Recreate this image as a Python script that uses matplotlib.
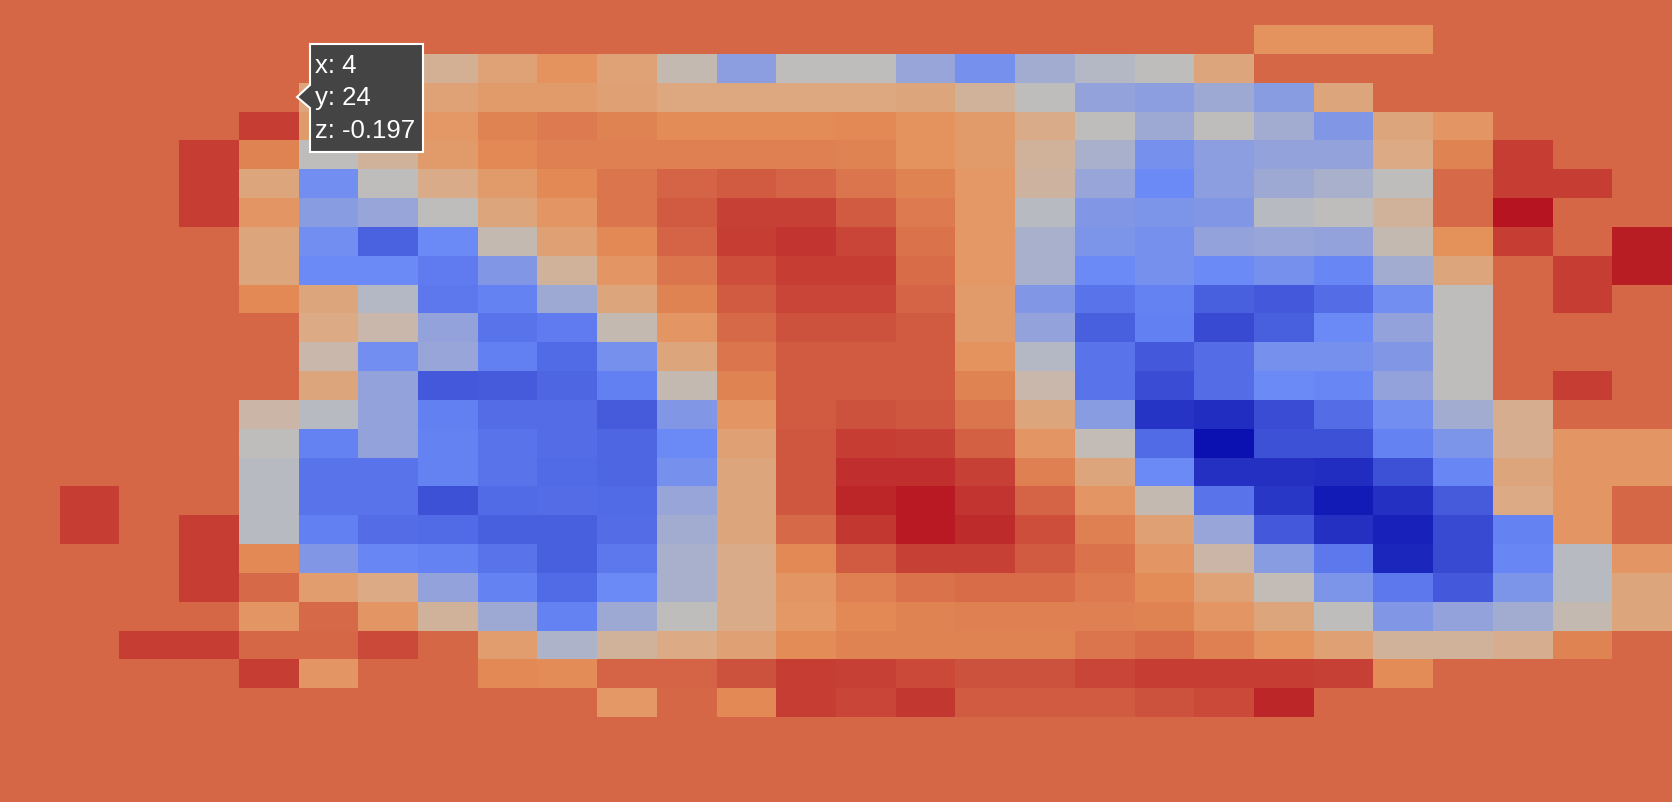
import numpy as np
import matplotlib
matplotlib.use("Agg")
import matplotlib.pyplot as plt
from matplotlib.colors import LinearSegmentedColormap
from matplotlib.patches import Polygon

b = -0.197  # background value

# rows listed from top (y=27) to bottom (y=0), 28 columns each (x=0..27)
ys = list(range(27, -1, -1))
xs = list(range(28))
z_rows = [
    [b] * 28,
    [b] * 21 + [-0.30, -0.30, -0.30] + [b] * 4,
    [b, b, b, b, b, b, -0.42, -0.42, -0.36, -0.30, -0.36, -0.47, -0.58, -0.49, -0.49, -0.56, -0.62, -0.54, -0.51, -0.49, -0.37, b, b, b, b, b, b, b],
    [b, b, b, b, b, -0.37, -0.36, -0.36, -0.33, -0.33, -0.35, -0.38, -0.38, -0.38, -0.38, -0.37, -0.43, -0.49, -0.57, -0.58, -0.55, -0.59, -0.37, b, b, b, b, b],
    [b, b, b, b, -0.10, -0.33, -0.33, -0.32, -0.26, -0.24, -0.26, -0.28, -0.28, -0.28, -0.27, -0.30, -0.33, -0.40, -0.49, -0.55, -0.49, -0.54, -0.60, -0.37, -0.31, b, b, b],
    [b, b, b, -0.10, -0.26, -0.49, -0.43, -0.33, -0.27, -0.25, -0.25, -0.25, -0.25, -0.25, -0.26, -0.30, -0.33, -0.43, -0.53, -0.62, -0.58, -0.57, -0.57, -0.39, -0.26, -0.10, b, b],
    [b, b, b, -0.10, -0.37, -0.63, -0.49, -0.40, -0.33, -0.27, -0.23, -0.19, -0.17, -0.19, -0.23, -0.26, -0.32, -0.44, -0.56, -0.64, -0.58, -0.55, -0.53, -0.49, -0.20, -0.10, -0.10, b],
    [b, b, b, -0.10, -0.31, -0.59, -0.56, -0.49, -0.37, -0.31, -0.23, -0.17, -0.11, -0.11, -0.17, -0.24, -0.32, -0.50, -0.60, -0.61, -0.60, -0.50, -0.49, -0.43, -0.20, -0.01, b, b],
    [b, b, b, b, -0.37, -0.63, -0.75, -0.64, -0.47, -0.35, -0.27, -0.19, -0.10, -0.08, -0.12, -0.22, -0.32, -0.53, -0.61, -0.62, -0.57, -0.56, -0.57, -0.47, -0.29, -0.10, b, -0.03],
    [b, b, b, b, -0.37, -0.64, -0.64, -0.68, -0.60, -0.43, -0.31, -0.23, -0.14, -0.10, -0.10, -0.21, -0.32, -0.53, -0.64, -0.62, -0.64, -0.62, -0.65, -0.54, -0.37, b, -0.10, -0.03],
    [b, b, b, b, -0.27, -0.37, -0.51, -0.69, -0.66, -0.55, -0.37, -0.26, -0.17, -0.12, -0.12, -0.19, -0.33, -0.60, -0.70, -0.66, -0.76, -0.78, -0.72, -0.63, -0.49, b, -0.10, b],
    [b, b, b, b, b, -0.39, -0.46, -0.57, -0.70, -0.68, -0.47, -0.31, -0.20, -0.15, -0.15, -0.17, -0.33, -0.57, -0.76, -0.67, -0.82, -0.76, -0.64, -0.57, -0.49, b, b, b],
    [b, b, b, b, b, -0.46, -0.63, -0.56, -0.67, -0.73, -0.62, -0.37, -0.23, -0.17, -0.17, -0.17, -0.30, -0.51, -0.70, -0.78, -0.72, -0.62, -0.62, -0.60, -0.49, b, b, b],
    [b, b, b, b, b, -0.37, -0.57, -0.78, -0.77, -0.74, -0.67, -0.47, -0.26, -0.17, -0.17, -0.17, -0.26, -0.46, -0.70, -0.81, -0.72, -0.64, -0.65, -0.57, -0.49, b, -0.10, b],
    [b, b, b, b, -0.45, -0.50, -0.57, -0.67, -0.72, -0.72, -0.77, -0.60, -0.31, -0.17, -0.15, -0.16, -0.23, -0.37, -0.59, -0.88, -0.90, -0.81, -0.72, -0.63, -0.54, -0.41, b, b],
    [b, b, b, b, -0.49, -0.66, -0.57, -0.66, -0.70, -0.72, -0.74, -0.64, -0.35, -0.16, -0.10, -0.11, -0.18, -0.31, -0.48, -0.73, -0.98, -0.80, -0.80, -0.66, -0.61, -0.41, -0.31, -0.31],
    [b, b, b, b, -0.50, -0.70, -0.70, -0.66, -0.70, -0.73, -0.74, -0.62, -0.37, -0.16, -0.07, -0.07, -0.11, -0.25, -0.37, -0.64, -0.89, -0.89, -0.90, -0.80, -0.65, -0.37, -0.31, -0.31],
    [b, -0.10, b, b, -0.50, -0.70, -0.70, -0.80, -0.73, -0.72, -0.73, -0.56, -0.37, -0.16, -0.05, -0.02, -0.08, -0.19, -0.31, -0.47, -0.70, -0.87, -0.95, -0.89, -0.77, -0.39, -0.31, b],
    [b, -0.10, b, -0.10, -0.50, -0.67, -0.72, -0.73, -0.76, -0.76, -0.72, -0.54, -0.37, -0.20, -0.09, -0.02, -0.06, -0.14, -0.25, -0.35, -0.56, -0.78, -0.89, -0.93, -0.82, -0.66, -0.31, b],
    [b, b, b, -0.10, -0.27, -0.60, -0.65, -0.66, -0.70, -0.76, -0.69, -0.53, -0.40, -0.27, -0.17, -0.11, -0.11, -0.17, -0.22, -0.31, -0.45, -0.59, -0.69, -0.92, -0.82, -0.65, -0.50, -0.31],
    [b, b, b, -0.10, -0.20, -0.34, -0.39, -0.57, -0.66, -0.73, -0.64, -0.53, -0.40, -0.31, -0.25, -0.22, -0.21, -0.21, -0.24, -0.28, -0.36, -0.48, -0.61, -0.69, -0.78, -0.61, -0.50, -0.37],
    [b, b, b, b, -0.31, -0.20, -0.31, -0.43, -0.55, -0.66, -0.55, -0.49, -0.40, -0.32, -0.27, -0.26, -0.25, -0.25, -0.25, -0.26, -0.31, -0.37, -0.49, -0.60, -0.57, -0.54, -0.47, -0.37],
    [b, b, -0.10, -0.10, b, b, -0.13, b, -0.34, -0.52, -0.43, -0.39, -0.35, -0.28, -0.26, -0.26, -0.26, -0.26, -0.23, -0.21, -0.25, -0.30, -0.35, -0.43, -0.43, -0.41, -0.26, b],
    [b, b, b, b, -0.10, -0.31, b, b, -0.27, -0.28, -0.19, -0.19, -0.15, -0.10, -0.11, -0.13, -0.15, -0.15, -0.12, -0.10, -0.10, -0.10, -0.11, -0.28, b, b, b, b],
    [b] * 10 + [-0.32, b, -0.27, -0.10, -0.12, -0.09, -0.17, -0.17, -0.17, -0.15, -0.13, -0.05] + [b] * 6,
    [b] * 28,
    [b] * 28,
    [b] * 28,
]

# hovered cell shown in the tooltip
tip_x, tip_y = 4, 24

# plotly style RdBu scale
rdbu = LinearSegmentedColormap.from_list("rdbu", [
    (0.0, (5/255, 10/255, 172/255)),
    (0.35, (106/255, 137/255, 247/255)),
    (0.5, (190/255, 190/255, 190/255)),
    (0.6, (220/255, 170/255, 132/255)),
    (0.7, (230/255, 145/255, 90/255)),
    (1.0, (178/255, 10/255, 28/255)),
])

z = np.array(z_rows)[::-1]  # row 0 = y 0

W, H = 1672, 802
fig = plt.figure(figsize=(W / 100, H / 100), dpi=100)
ax = fig.add_axes([0, 0, 1, 1])
ax.imshow(z, cmap=rdbu, vmin=-1.0, vmax=0.016, origin="lower",
          aspect="auto", interpolation="nearest")
ax.set_xlim(-0.5, 27.5)
ax.set_ylim(-0.448, 27.37)
ax.axis("off")

# tooltip, drawn in pixel coords (top-left origin)
def px(x, y):
    return (x / W, 1 - y / H)

pts = [px(310, 44), px(423, 44), px(423, 152), px(310, 152),
       px(310, 108), px(297, 97), px(310, 85)]
fig.add_artist(Polygon(pts, closed=True, transform=fig.transFigure,
                       facecolor="#444444", edgecolor="white", linewidth=1.5))
z_tip = z[tip_y][tip_x]
lines = [f"x: {tip_x}", f"y: {tip_y}", f"z: {z_tip:.3f}"]
for i, t in enumerate(lines):
    fig.text(*px(315, 73 + 32.5 * i), t, color="white", fontsize=18.5,
             family="Liberation Sans", va="baseline", ha="left")

fig.savefig("out.png", dpi=100)
